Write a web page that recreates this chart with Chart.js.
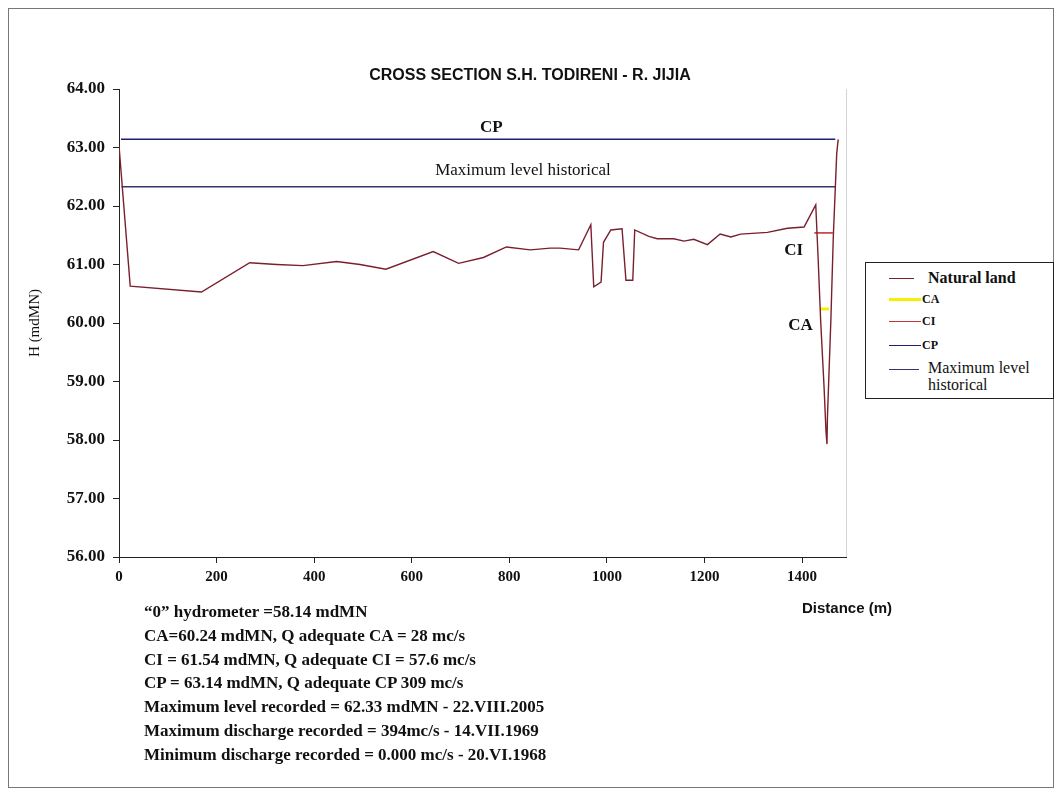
<!DOCTYPE html>
<html>
<head>
<meta charset="utf-8">
<script src="https://cdn.jsdelivr.net/npm/chart.js@4.4.1/dist/chart.umd.min.js"></script>
<style>
  html, body { margin: 0; padding: 0; background: #fff; }
  #page { position: relative; width: 1057px; height: 792px; overflow: hidden; }
  #frame { position: absolute; left: 8px; top: 8px; width: 1044px; height: 778px; border: 1px solid #777; }
  #wrap { position: absolute; left: 0; top: 0; width: 1057px; height: 792px; }
  #title { position: absolute; left: 0; width: 1060px; top: 66px; text-align: center;
    font: bold 16px "Liberation Sans", Arial, sans-serif; color: #111; }
  #xtitle { position: absolute; left: 802px; top: 599px;
    font: bold 15px "Liberation Sans", Arial, sans-serif; color: #111; }
  #notes { position: absolute; left: 144px; top: 600px;
    font: bold 17px "Liberation Serif", "Times New Roman", serif; line-height: 23.8px; color: #111; }
  #legend { position: absolute; left: 865px; top: 262px; width: 187px; height: 135px;
    border: 1.5px solid #222; background: #fff; }
  .row { position: absolute; left: 23px; display: flex; align-items: center;
    font-family: "Liberation Serif", "Times New Roman", serif; color: #111; }
  .sample { display: inline-block; }
</style>
</head>
<body>
<div id="page">
  <div id="frame"></div>
  <div id="wrap"><canvas id="chart"></canvas></div>
  <div id="title">CROSS SECTION S.H. TODIRENI - R. JIJIA</div>
  <div id="xtitle">Distance (m)</div>
  <div id="notes"></div>
  <div id="legend"></div>
</div>
<script>
// natural land profile (distance m, level mdMN)
const landDistance = [0, 23, 169, 268, 323, 377, 446, 494, 547, 644, 696, 747, 794, 843, 884, 904, 942,
  967, 973, 988, 993, 1008, 1031, 1039, 1053, 1057, 1086, 1103, 1137, 1158, 1178, 1206, 1232, 1254,
  1274, 1329, 1370, 1404, 1428, 1433, 1438, 1445, 1449, 1451, 1452, 1459, 1464, 1471, 1474];
const landLevel = [63.03, 60.63, 60.53, 61.03, 61.00, 60.98, 61.05, 61.00, 60.92, 61.22, 61.02, 61.12,
  61.30, 61.25, 61.28, 61.28, 61.25, 61.68, 60.62, 60.70, 61.38, 61.59, 61.61, 60.73, 60.73, 61.59,
  61.48, 61.44, 61.44, 61.40, 61.43, 61.34, 61.52, 61.47, 61.52, 61.55, 61.62, 61.64, 62.02, 61.08,
  60.05, 58.91, 58.15, 57.93, 58.40, 60.05, 61.48, 62.90, 63.14];

// reference levels
const caDistance = [1437, 1455];
const caLevel = [60.24, 60.24];
const ciDistance = [1425, 1463];
const ciLevel = [61.54, 61.54];
const cpDistance = [4, 1468];
const cpLevel = [63.14, 63.14];
const maxDistance = [5, 1468];
const maxLevel = [62.33, 62.33];

const yTicks = [56, 57, 58, 59, 60, 61, 62, 63, 64];
const xTicks = [0, 200, 400, 600, 800, 1000, 1200, 1400];

// in-chart labels
const noteText = ['CP', 'Maximum level historical', 'CI', 'CA'];
const noteX = [763, 828, 1383, 1397];
const noteY = [63.34, 62.60, 61.24, 59.95];
const noteBold = [true, false, true, true];

const infoLines = [
  '\u201C0\u201D hydrometer =58.14 mdMN',
  'CA=60.24 mdMN, Q adequate CA = 28 mc/s',
  'CI = 61.54 mdMN, Q adequate CI = 57.6 mc/s',
  'CP = 63.14 mdMN, Q adequate CP 309 mc/s',
  'Maximum level recorded = 62.33 mdMN - 22.VIII.2005',
  'Maximum discharge recorded = 394mc/s - 14.VII.1969',
  'Minimum discharge recorded = 0.000 mc/s - 20.VI.1968'
];

const pts = (xs, ys) => xs.map((x, i) => ({ x: x, y: ys[i] }));
const serif = '"Liberation Serif", "Times New Roman", serif';

const datasets = [
  { label: 'Natural land', data: pts(landDistance, landLevel), borderColor: '#7a1f2e', borderWidth: 1.4 },
  { label: 'CA', data: pts(caDistance, caLevel), borderColor: '#f5f000', borderWidth: 3 },
  { label: 'CI', data: pts(ciDistance, ciLevel), borderColor: '#c8323c', borderWidth: 1.6 },
  { label: 'CP', data: pts(cpDistance, cpLevel), borderColor: '#1f1f7a', borderWidth: 1.4 },
  { label: 'Maximum level historical', data: pts(maxDistance, maxLevel), borderColor: '#35356e', borderWidth: 1.4 }
].map(d => Object.assign(d, { showLine: true, pointRadius: 0, fill: false, tension: 0 }));

const notesPlugin = {
  id: 'notes',
  beforeDatasetsDraw(chart) {
    const { ctx, chartArea } = chart;
    ctx.save();
    ctx.strokeStyle = '#d4d4d4';
    ctx.lineWidth = 1;
    ctx.beginPath();
    ctx.moveTo(chartArea.right + 0.5, chartArea.top);
    ctx.lineTo(chartArea.right + 0.5, chartArea.bottom);
    ctx.stroke();
    ctx.restore();
  },
  afterDatasetsDraw(chart) {
    const { ctx, scales } = chart;
    ctx.save();
    ctx.fillStyle = '#111';
    ctx.textAlign = 'center';
    ctx.textBaseline = 'middle';
    noteText.forEach((t, i) => {
      ctx.font = (noteBold[i] ? 'bold 17px ' : '17px ') + serif;
      ctx.fillText(t, scales.x.getPixelForValue(noteX[i]), scales.y.getPixelForValue(noteY[i]));
    });
    ctx.restore();
  }
};

const chart = new Chart(document.getElementById('chart'), {
  type: 'scatter',
  data: { datasets: datasets },
  options: {
    responsive: true,
    maintainAspectRatio: false,
    animation: false,
    layout: { padding: { left: 10, right: 211, top: 89, bottom: 195 } },
    plugins: { legend: { display: false }, tooltip: { enabled: false } },
    scales: {
      x: {
        type: 'linear', min: 0, max: 1490,
        afterBuildTicks: (axis) => { axis.ticks = xTicks.map(v => ({ value: v })); },
        afterFit: (axis) => { axis.height = 40; },
        grid: { drawOnChartArea: false, drawTicks: true, tickLength: 6, color: '#222' },
        border: { display: true, color: '#222', width: 1 },
        ticks: { color: '#111', padding: 5, maxRotation: 0, font: { family: serif, size: 15, weight: 'bold' },
          callback: (v) => String(v) }
      },
      y: {
        min: 56, max: 64,
        afterBuildTicks: (axis) => { axis.ticks = yTicks.map(v => ({ value: v })); },
        afterFit: (axis) => { axis.width = 109; },
        grid: { drawOnChartArea: false, drawTicks: true, tickLength: 6, color: '#222' },
        border: { display: true, color: '#222', width: 1 },
        ticks: { color: '#111', padding: 8, font: { family: serif, size: 17, weight: 'bold' },
          callback: (v) => Number(v).toFixed(2) },
        title: { display: true, text: 'H (mdMN)', color: '#111', padding: { top: 16, bottom: 0 },
          font: { family: serif, size: 15 } }
      }
    }
  },
  plugins: [notesPlugin]
});

document.getElementById('notes').innerHTML = infoLines.map(l => '<div>' + l + '</div>').join('');

// legend built from the datasets
const legendTop = [15, 36, 58, 82, 113];
const legendSample = [25, 32, 32, 32, 30];
const legendGap = [14, 1, 1, 1, 9];
const legendFont = ['bold 16px', 'bold 12px', 'bold 12px', 'bold 12px', '16px'];
const legendBox = document.getElementById('legend');
chart.data.datasets.forEach((ds, i) => {
  const row = document.createElement('div');
  row.className = 'row';
  row.style.top = (legendTop[i] - (i === 4 ? 17 : 10)) + 'px';
  const sample = document.createElement('span');
  sample.className = 'sample';
  sample.style.width = legendSample[i] + 'px';
  sample.style.borderTop = ds.borderWidth + 'px solid ' + ds.borderColor;
  sample.style.marginRight = legendGap[i] + 'px';
  if (i === 4) { sample.style.alignSelf = 'flex-start'; sample.style.marginTop = '10px'; }
  const txt = document.createElement('span');
  txt.style.font = legendFont[i] + ' ' + serif;
  txt.style.lineHeight = i === 4 ? '17px' : '20px';
  if (i === 4) txt.style.width = '120px';
  txt.textContent = ds.label;
  row.appendChild(sample);
  row.appendChild(txt);
  legendBox.appendChild(row);
});
</script>
</body>
</html>
